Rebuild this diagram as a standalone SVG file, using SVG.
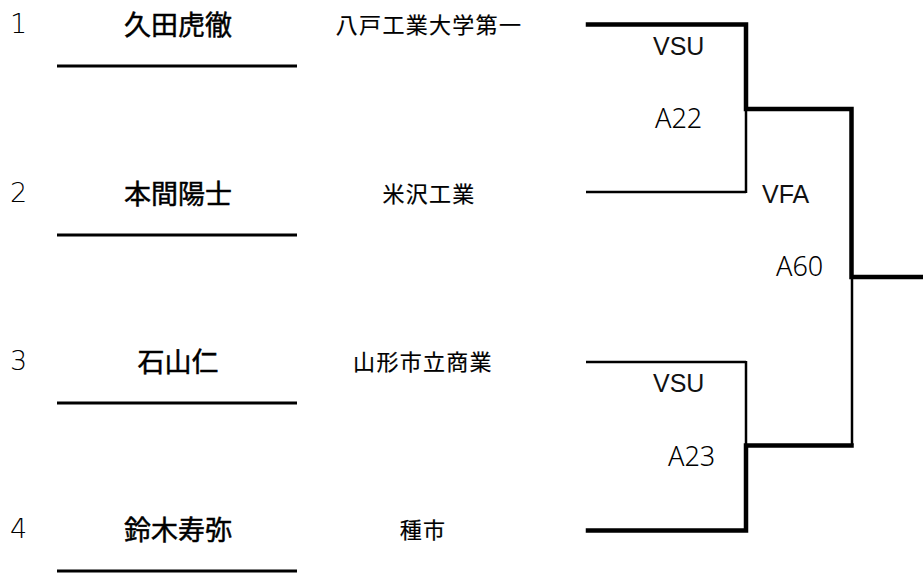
<svg xmlns="http://www.w3.org/2000/svg" width="923" height="574" viewBox="0 0 923 574">
<style>
.num{font-family:"DejaVu Sans","Noto Sans",sans-serif;font-weight:200;font-size:27px;fill:#000;dominant-baseline:central}
.name{font-family:"Noto Sans CJK JP",sans-serif;font-weight:400;font-size:27px;fill:#000;stroke:#000;stroke-width:0.5;text-anchor:middle;dominant-baseline:central}
.school{font-family:"Noto Sans CJK JP",sans-serif;font-size:22px;letter-spacing:1.3px;fill:#000;stroke:#000;stroke-width:0.2;text-anchor:middle;dominant-baseline:central}
.lab{font-family:"Liberation Sans",Arial,sans-serif;font-size:25px;fill:#111;dominant-baseline:central}
.code{font-family:"Noto Sans","DejaVu Sans",sans-serif;font-weight:300;font-size:27px;fill:#000;dominant-baseline:central}
.ul{stroke:#000;stroke-width:3;fill:none}
.thick{stroke:#000;stroke-width:4.5;fill:none;stroke-linecap:square}
.thin{stroke:#000;stroke-width:2.5;fill:none}
</style>
<g id="p1"><text class="num" x="10" y="23">1</text><text class="name" x="178" y="23">久田虎徹</text><text class="school" x="429" y="23">八戸工業大学第一</text><line class="ul" x1="57" y1="66" x2="297" y2="66"/></g>
<g id="p2"><text class="num" x="10" y="192">2</text><text class="name" x="178" y="192">本間陽士</text><text class="school" x="429" y="192">米沢工業</text><line class="ul" x1="57" y1="235" x2="297" y2="235"/></g>
<g id="p3"><text class="num" x="10" y="360">3</text><text class="name" x="178" y="360">石山仁</text><text class="school" x="423" y="360">山形市立商業</text><line class="ul" x1="57" y1="403" x2="297" y2="403"/></g>
<g id="p4"><text class="num" x="10" y="528">4</text><text class="name" x="178" y="528">鈴木寿弥</text><text class="school" x="423" y="528">種市</text><line class="ul" x1="57" y1="571" x2="297" y2="571"/></g>
<g id="connectors">
<line class="thin" x1="586" y1="192" x2="746" y2="192"/>
<line class="thin" x1="746" y1="109" x2="746" y2="193"/>
<line class="thin" x1="586" y1="362" x2="746" y2="362"/>
<line class="thin" x1="746" y1="361" x2="746" y2="445"/>
<line class="thin" x1="852" y1="277" x2="852" y2="445"/>
<polyline class="thick" points="588,24.5 746,24.5 746,109 851.5,109 851.5,277 925,277"/>
<polyline class="thick" points="588,530.5 746,530.5 746,445.5 851.5,445.5"/>
</g>
<g id="m1"><text class="lab" x="653" y="46">VSU</text><text class="code" x="655" y="117">A22</text></g>
<g id="m2"><text class="lab" x="653" y="382.5">VSU</text><text class="code" x="668" y="455.5">A23</text></g>
<g id="m3"><text class="lab" x="762" y="193.5">VFA</text><text class="code" x="776" y="265.5">A60</text></g>
</svg>
